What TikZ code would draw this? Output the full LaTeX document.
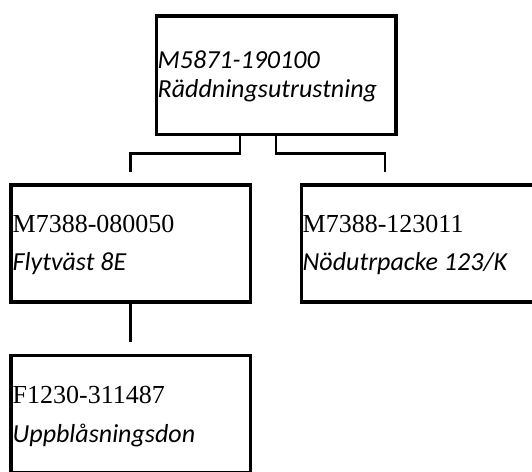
\documentclass[tikz,border=0pt]{standalone}
\usepackage{fontspec}
\newfontfamily\calfont{Carlito}
\newfontfamily\timesfont{Liberation Serif}
\begin{document}
\begin{tikzpicture}[x=1pt,y=-1pt,
  box/.style={draw=black,line width=3.5pt,minimum width=239.5pt,minimum height=117pt,inner sep=0pt,fill=white},
  conn/.style={draw=black,line width=2.4pt},
  lab/.style={anchor=base west,inner sep=0pt,font=\calfont\itshape\fontsize{26}{29}\selectfont},
  code/.style={anchor=base west,inner sep=0pt,font=\timesfont\fontsize{26}{29}\selectfont}]
\useasboundingbox (0,0) rectangle (532,471);
\clip (0,0) rectangle (532,471);
\node[box,minimum height=118.5pt] (top) at (276,75) {};
\node[box] (left) at (130.5,243.7) {};
\node[box] (right) at (421,243.7) {};
\node[box] (bottom) at (130.5,414) {};
% texts
\node[lab] (t1) at (157.5,68) {M5871-190100};
\node[lab] (t2) at (157.5,97) {Räddningsutrustning};
\node[code] (l1) at (12.5,232) {M7388-080050};
\node[lab] (l2) at (12.5,270) {Flytväst 8E};
\node[code] (r1) at (302.5,232) {M7388-123011};
\node[lab] (r2) at (302.5,270) {Nödutrpacke 123/K};
\node[code] (b1) at (12.5,403) {F1230-311487};
\node[lab] (b2) at (12.5,442) {Uppblåsningsdon};
% connectors
\coordinate (lend) at (130.5,172);
\coordinate (rend) at (385,172);
\coordinate (bend) at (130.5,342);
\draw[conn] (top.south -| 240,0) -- (240,153.5) -| (lend);
\draw[conn] (top.south -| 276,0) -- (276,153.5) -| (rend);
\draw[conn] (left.south -| bend) -- (bend);
\end{tikzpicture}
\end{document}
